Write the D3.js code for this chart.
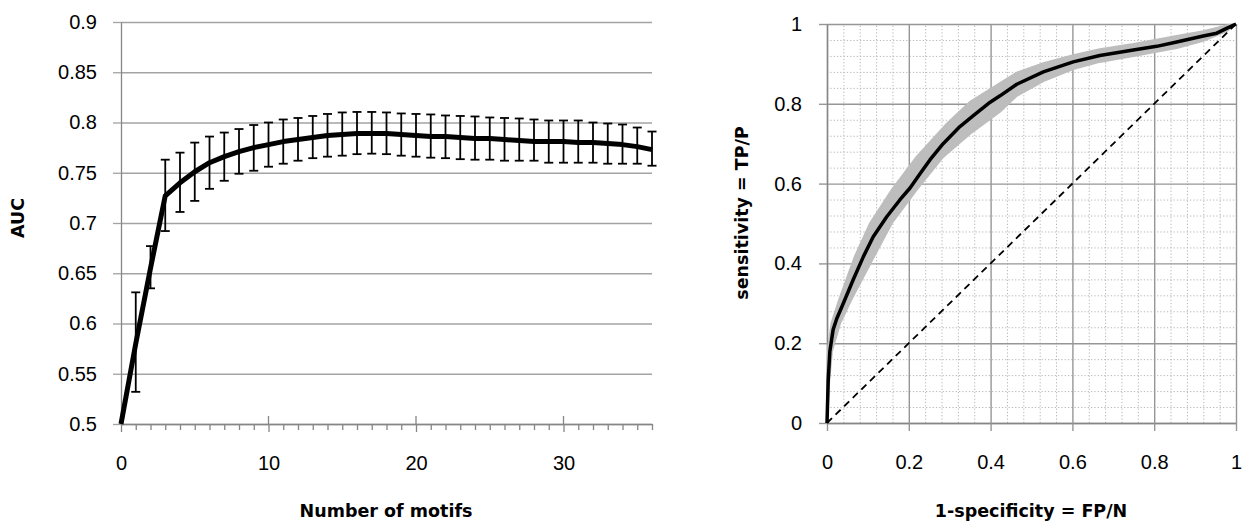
<!DOCTYPE html>
<html>
<head>
<meta charset="utf-8">
<script src="https://d3js.org/d3.v7.min.js"></script>
<style>
  body { margin: 0; background: #fff; }
  svg { display: block; font-family: "DejaVu Sans", sans-serif; }
  .tick text { fill: #000; }
</style>
</head>
<body>
<svg id="chart" width="1244" height="525"></svg>
<script>
// left panel: AUC vs number of motifs
const motifs = d3.range(0, 37)
const aucMean = [0.5, 0.58, 0.655, 0.727, 0.740, 0.751, 0.760, 0.766, 0.771, 0.775,
  0.778, 0.781, 0.783, 0.785, 0.787, 0.788, 0.789, 0.789, 0.789, 0.788,
  0.787, 0.786, 0.786, 0.785, 0.784, 0.784, 0.783, 0.782, 0.781, 0.781,
  0.781, 0.780, 0.780, 0.779, 0.778, 0.776, 0.773]
const aucLow = [null, 0.532, 0.635, 0.692, 0.711, 0.722, 0.734, 0.742, 0.749, 0.752,
  0.756, 0.759, 0.762, 0.7645, 0.766, 0.767, 0.7685, 0.769, 0.7685, 0.767,
  0.766, 0.765, 0.7645, 0.7635, 0.763, 0.763, 0.762, 0.762, 0.762, 0.760,
  0.760, 0.760, 0.760, 0.759, 0.759, 0.759, 0.757]
const aucHigh = [null, 0.631, 0.677, 0.763, 0.770, 0.780, 0.786, 0.790, 0.7935, 0.7975,
  0.800, 0.803, 0.8045, 0.8065, 0.8085, 0.810, 0.8105, 0.8105, 0.810, 0.809,
  0.8085, 0.808, 0.807, 0.8065, 0.806, 0.805, 0.8045, 0.804, 0.803, 0.802,
  0.802, 0.802, 0.800, 0.799, 0.798, 0.795, 0.791]
const aucTicks = [0.5, 0.55, 0.6, 0.65, 0.7, 0.75, 0.8, 0.85, 0.9]
const motifTicks = [0, 10, 20, 30]

// right panel: ROC curve with spread band
const rocFpr = [0, 0.003, 0.007, 0.015, 0.024, 0.04, 0.064, 0.089, 0.113, 0.146,
  0.178, 0.203, 0.227, 0.252, 0.284, 0.325, 0.36, 0.399, 0.423, 0.464,
  0.529, 0.602, 0.667, 0.749, 0.806, 0.855, 0.92, 0.953, 0.977, 1]
const rocTpr = [0, 0.108, 0.18, 0.234, 0.262, 0.30, 0.359, 0.417, 0.467, 0.517,
  0.559, 0.589, 0.624, 0.66, 0.70, 0.743, 0.772, 0.804, 0.82, 0.849,
  0.880, 0.905, 0.921, 0.935, 0.944, 0.955, 0.970, 0.977, 0.989, 1]
const bandUpFpr = [0, 0, 0.003, 0.011, 0.03, 0.068, 0.105, 0.158, 0.219, 0.293,
  0.35, 0.423, 0.464, 0.529, 0.602, 0.667, 0.749, 0.855, 0.92, 0.977, 1]
const bandUpTpr = [0, 0.12, 0.19, 0.25, 0.31, 0.417, 0.50, 0.584, 0.667, 0.75,
  0.805, 0.852, 0.878, 0.902, 0.922, 0.937, 0.950, 0.970, 0.982, 0.996, 1]
const bandLoFpr = [0, 0.005, 0.012, 0.032, 0.06, 0.115, 0.158, 0.219, 0.284, 0.35,
  0.423, 0.464, 0.529, 0.602, 0.667, 0.749, 0.855, 0.92, 0.977, 1]
const bandLoTpr = [0, 0.10, 0.18, 0.25, 0.31, 0.417, 0.50, 0.584, 0.667, 0.725,
  0.78, 0.82, 0.857, 0.887, 0.905, 0.920, 0.940, 0.958, 0.982, 1]
const rocTicks = [0, 0.2, 0.4, 0.6, 0.8, 1]
const rocMinor = [0.04, 0.08, 0.12, 0.16, 0.24, 0.28, 0.32, 0.36, 0.44, 0.48, 0.52, 0.56,
  0.64, 0.68, 0.72, 0.76, 0.84, 0.88, 0.92, 0.96]

const svg = d3.select('#chart')
const fmt = d => String(d)

// ---------- left panel ----------
const xL = d3.scaleLinear().domain([0, 36]).range([121, 652])
const yL = d3.scaleLinear().domain([0.5, 0.9]).range([424, 22])
const left = svg.append('g')

// horizontal grid
left.append('g')
  .attr('transform', 'translate(121,0)')
  .call(d3.axisLeft(yL).tickValues(aucTicks).tickSize(-(652 - 121)).tickFormat(''))
  .call(g => g.select('.domain').remove())
  .call(g => g.selectAll('line').attr('stroke', '#a3a3a3').attr('stroke-width', 1.3))

// y axis with labels
left.append('g')
  .attr('transform', 'translate(121,0)')
  .call(d3.axisLeft(yL).tickValues(aucTicks).tickSize(8).tickSizeOuter(0).tickPadding(16).tickFormat(fmt))
  .call(g => g.select('.domain').attr('stroke', '#868686').attr('stroke-width', 1.3))
  .call(g => g.selectAll('line').attr('stroke', '#a3a3a3').attr('stroke-width', 1.3))
  .call(g => g.selectAll('text').attr('font-size', 20))

// minor x ticks
left.append('g')
  .attr('transform', 'translate(0,424)')
  .call(d3.axisBottom(xL).tickValues(motifs.filter(d => d % 10 !== 0)).tickSize(6).tickFormat(''))
  .call(g => g.select('.domain').remove())
  .call(g => g.selectAll('line').attr('stroke', '#868686').attr('stroke-width', 1.3))

// major x ticks cross the axis line
left.append('g')
  .selectAll('line')
  .data(motifTicks)
  .join('line')
  .attr('x1', d => xL(d)).attr('x2', d => xL(d))
  .attr('y1', 416).attr('y2', 424)
  .attr('stroke', '#868686').attr('stroke-width', 1.3)

left.append('g')
  .attr('transform', 'translate(0,424)')
  .call(d3.axisBottom(xL).tickValues(motifTicks).tickSize(8).tickSizeOuter(0).tickPadding(24).tickFormat(fmt))
  .call(g => g.select('.domain').attr('stroke', '#868686').attr('stroke-width', 1.3))
  .call(g => g.selectAll('line').attr('stroke', '#868686').attr('stroke-width', 1.3))
  .call(g => g.selectAll('text').attr('font-size', 20))

// error bars
const errData = motifs.filter(i => aucLow[i] !== null)
const bars = left.append('g').attr('stroke', '#000').attr('stroke-width', 1.8)
bars.selectAll('.ev')
  .data(errData)
  .join('line')
  .attr('class', 'ev')
  .attr('x1', i => xL(i)).attr('x2', i => xL(i))
  .attr('y1', i => yL(aucLow[i])).attr('y2', i => yL(aucHigh[i]))
bars.selectAll('.ct')
  .data(errData)
  .join('line')
  .attr('class', 'ct')
  .attr('x1', i => xL(i) - 4.5).attr('x2', i => xL(i) + 4.5)
  .attr('y1', i => yL(aucHigh[i])).attr('y2', i => yL(aucHigh[i]))
bars.selectAll('.cb')
  .data(errData)
  .join('line')
  .attr('class', 'cb')
  .attr('x1', i => xL(i) - 4.5).attr('x2', i => xL(i) + 4.5)
  .attr('y1', i => yL(aucLow[i])).attr('y2', i => yL(aucLow[i]))

// mean line
left.append('path')
  .datum(motifs)
  .attr('fill', 'none')
  .attr('stroke', '#000')
  .attr('stroke-width', 5)
  .attr('stroke-linejoin', 'round')
  .attr('d', d3.line().x(i => xL(i)).y(i => yL(aucMean[i])))

left.append('text')
  .attr('x', 386).attr('y', 517)
  .attr('text-anchor', 'middle')
  .attr('font-size', 17.5).attr('font-weight', 'bold')
  .text('Number of motifs')

left.append('text')
  .attr('transform', 'translate(24,218) rotate(-90)')
  .attr('text-anchor', 'middle')
  .attr('font-size', 17.5).attr('font-weight', 'bold')
  .text('AUC')

// ---------- right panel ----------
const xR = d3.scaleLinear().domain([0, 1]).range([827, 1236])
const yR = d3.scaleLinear().domain([0, 1]).range([423, 24])
const right = svg.append('g')

// minor dotted grid
right.append('g')
  .attr('transform', 'translate(0,423)')
  .call(d3.axisBottom(xR).tickValues(rocMinor).tickSize(-(423 - 24)).tickFormat(''))
  .call(g => g.select('.domain').remove())
  .call(g => g.selectAll('line').attr('stroke', '#b8b8b8').attr('stroke-dasharray', '1.3,2'))
right.append('g')
  .attr('transform', 'translate(827,0)')
  .call(d3.axisLeft(yR).tickValues(rocMinor).tickSize(-(1236 - 827)).tickFormat(''))
  .call(g => g.select('.domain').remove())
  .call(g => g.selectAll('line').attr('stroke', '#b8b8b8').attr('stroke-dasharray', '1.3,2'))

// major grid
right.append('g')
  .attr('transform', 'translate(0,423)')
  .call(d3.axisBottom(xR).tickValues(rocTicks).tickSize(-(423 - 24)).tickFormat(''))
  .call(g => g.select('.domain').remove())
  .call(g => g.selectAll('line').attr('stroke', '#969696').attr('stroke-width', 1.4))
right.append('g')
  .attr('transform', 'translate(827,0)')
  .call(d3.axisLeft(yR).tickValues(rocTicks).tickSize(-(1236 - 827)).tickFormat(''))
  .call(g => g.select('.domain').remove())
  .call(g => g.selectAll('line').attr('stroke', '#969696').attr('stroke-width', 1.4))

// axes with labels
right.append('g')
  .attr('transform', 'translate(0,423)')
  .call(d3.axisBottom(xR).tickValues(rocTicks).tickSize(8).tickSizeOuter(0).tickPadding(24).tickFormat(fmt))
  .call(g => g.select('.domain').attr('stroke', '#868686').attr('stroke-width', 1.4))
  .call(g => g.selectAll('line').attr('stroke', '#969696').attr('stroke-width', 1.4))
  .call(g => g.selectAll('text').attr('font-size', 20))
right.append('g')
  .attr('transform', 'translate(827,0)')
  .call(d3.axisLeft(yR).tickValues(rocTicks).tickSize(8).tickSizeOuter(0).tickPadding(17).tickFormat(fmt))
  .call(g => g.select('.domain').attr('stroke', '#868686').attr('stroke-width', 1.4))
  .call(g => g.selectAll('line').attr('stroke', '#969696').attr('stroke-width', 1.4))
  .call(g => g.selectAll('text').attr('font-size', 20))

// gray spread band
const bandPts = bandUpFpr.map((f, i) => [xR(f), yR(bandUpTpr[i])])
  .concat(bandLoFpr.map((f, i) => [xR(f), yR(bandLoTpr[i])]).reverse())
right.append('path')
  .attr('fill', '#bdbdbd')
  .attr('stroke', '#bdbdbd')
  .attr('stroke-width', 2)
  .attr('d', d3.line()(bandPts) + 'Z')

// chance diagonal
right.append('line')
  .attr('x1', xR(0)).attr('y1', yR(0))
  .attr('x2', xR(1)).attr('y2', yR(1))
  .attr('stroke', '#000')
  .attr('stroke-width', 1.8)
  .attr('stroke-dasharray', '7,5')

// roc line
right.append('path')
  .datum(rocFpr)
  .attr('fill', 'none')
  .attr('stroke', '#000')
  .attr('stroke-width', 3.5)
  .attr('stroke-linejoin', 'round')
  .attr('d', d3.line().x(f => xR(f)).y((f, i) => yR(rocTpr[i])))

right.append('text')
  .attr('x', 1031).attr('y', 517)
  .attr('text-anchor', 'middle')
  .attr('font-size', 17.5).attr('font-weight', 'bold')
  .text('1-specificity = FP/N')

right.append('text')
  .attr('transform', 'translate(748,213) rotate(-90)')
  .attr('text-anchor', 'middle')
  .attr('font-size', 17.5).attr('font-weight', 'bold')
  .text('sensitivity = TP/P')
</script>
</body>
</html>
